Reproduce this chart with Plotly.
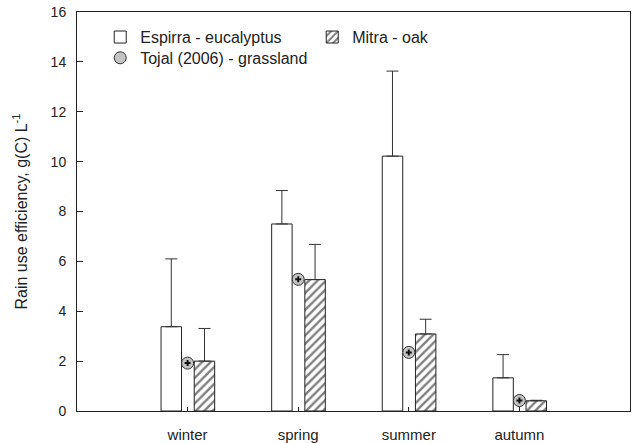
import plotly.graph_objects as go

# dados
estacoes = ['winter', 'spring', 'summer', 'autumn']
espirra = [3.38, 7.5, 10.22, 1.33]
espirra_erro = [2.72, 1.34, 3.41, 0.93]
mitra = [2.0, 5.27, 3.09, 0.41]
mitra_erro = [1.31, 1.41, 0.59, 0.02]
tojal = [1.92, 5.28, 2.35, 0.42]

posicoes = list(range(1, len(estacoes) + 1))
fonte = 'Liberation Sans, Arial, sans-serif'

fig = go.Figure()

fig.add_trace(go.Bar(
    x=posicoes, y=espirra, name='Espirra - eucalyptus',
    width=0.185, offset=-0.24,
    marker=dict(color='white', line=dict(color='#222', width=1)),
    error_y=dict(type='data', symmetric=False, array=espirra_erro,
                 arrayminus=[0] * len(espirra), color='#333', thickness=1, width=6),
))
fig.add_trace(go.Bar(
    x=posicoes, y=mitra, name='Mitra - oak',
    width=0.185, offset=0.06,
    marker=dict(color='white', line=dict(color='#222', width=1),
                pattern=dict(shape='/', fgcolor='black', bgcolor='white',
                             size=6, solidity=0.4, fillmode='overlay')),
    error_y=dict(type='data', symmetric=False, array=mitra_erro,
                 arrayminus=[0] * len(mitra), color='#333', thickness=1, width=6),
))
fig.add_trace(go.Scatter(
    x=posicoes, y=tojal, mode='markers', name='Tojal (2006) - grassland',
    legend='legend2',
    marker=dict(symbol='circle', size=12, color='#c4c4c4',
                line=dict(color='#333', width=1)),
))
# cruzinho no meio do marcador
fig.add_trace(go.Scatter(
    x=posicoes, y=tojal, mode='markers', showlegend=False, hoverinfo='skip',
    marker=dict(symbol='cross', size=5, color='#111', line=dict(width=0)),
))

fig.update_layout(
    width=632, height=443,
    margin=dict(l=77, r=2, t=12, b=32),
    paper_bgcolor='white', plot_bgcolor='white',
    font=dict(family=fonte, size=14, color='#222'),
    showlegend=True,
    legend=dict(orientation='h', x=0.042, y=0.937, xanchor='left', yanchor='middle',
                entrywidth=167, entrywidthmode='pixels',
                font=dict(size=16), bgcolor='rgba(0,0,0,0)'),
    legend2=dict(orientation='h', x=0.042, y=0.885, xanchor='left', yanchor='middle',
                 font=dict(size=16), bgcolor='rgba(0,0,0,0)'),
)
fig.update_xaxes(
    range=[0, 5], tickmode='array', tickvals=posicoes, ticktext=estacoes,
    ticks='inside', ticklen=4, tickcolor='#222',
    showline=True, linecolor='#222', linewidth=1, mirror=True,
    showgrid=False, zeroline=False, automargin=False,
    tickfont=dict(size=15), ticklabelstandoff=10,
)
fig.update_yaxes(
    range=[0, 16], dtick=2,
    ticks='inside', ticklen=6, tickcolor='#222',
    showline=True, linecolor='#222', linewidth=1, mirror=True,
    showgrid=False, zeroline=False, automargin=False,
    tickfont=dict(size=14), ticklabelstandoff=7,
    title=dict(text='Rain use efficiency, g(C) L<sup>-1</sup>', font=dict(size=16), standoff=19),
)

# tira a margem padrao do body para a figura ocupar a janela toda
fig.write_html("out.html", config={'displayModeBar': False},
               post_script="document.body.style.margin='0';")
